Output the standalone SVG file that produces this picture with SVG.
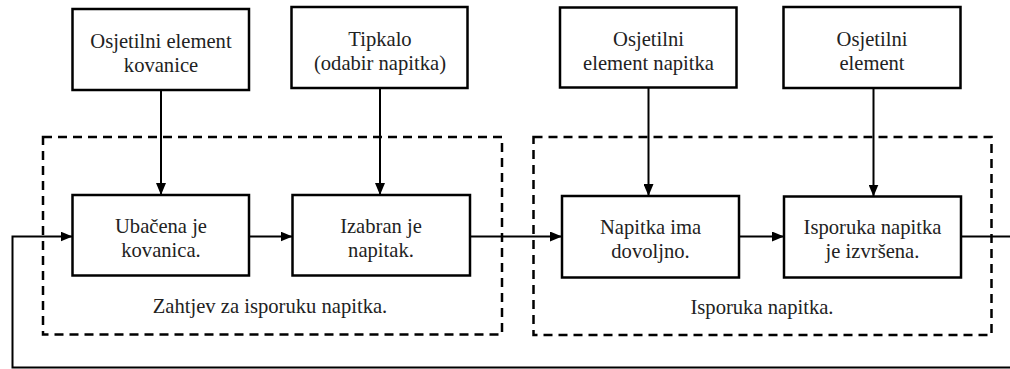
<svg xmlns="http://www.w3.org/2000/svg" width="1010" height="369" viewBox="0 0 1010 369">
<style>
.box{fill:#fff;stroke:#000;stroke-width:2.5}
.grp{fill:none;stroke:#000;stroke-width:2.5;stroke-dasharray:9 6}
.con{fill:none;stroke:#000;stroke-width:2}
text{font-family:'Liberation Serif','Tinos','DejaVu Serif',serif;font-size:20.6px;fill:#222;text-anchor:middle}
</style>
<defs>
<marker id="ah" markerUnits="userSpaceOnUse" markerWidth="12" markerHeight="10" refX="12" refY="5" orient="auto">
<path d="M0,0 L12,5 L0,10 Z" fill="#000"/>
</marker>
</defs>
<rect width="1010" height="369" fill="#fff"/>
<g id="group1"><rect class="grp" x="43" y="137" width="459" height="197.5"/><text x="270" y="313">Zahtjev za isporuku napitka.</text></g>
<g id="group2"><rect class="grp" x="533.5" y="137" width="458" height="198"/><text x="762" y="314">Isporuka napitka.</text></g>
<g id="connectors">
<line class="con" x1="161" y1="90" x2="161" y2="195" marker-end="url(#ah)"/>
<line class="con" x1="380" y1="88" x2="380" y2="195" marker-end="url(#ah)"/>
<line class="con" x1="648.5" y1="88" x2="648.5" y2="196" marker-end="url(#ah)"/>
<line class="con" x1="873.5" y1="88" x2="873.5" y2="196.5" marker-end="url(#ah)"/>
<line class="con" x1="249" y1="236.5" x2="292.5" y2="236.5" marker-end="url(#ah)"/>
<line class="con" x1="470" y1="236.5" x2="562" y2="236.5" marker-end="url(#ah)"/>
<line class="con" x1="739" y1="236.5" x2="784" y2="236.5" marker-end="url(#ah)"/>
<path class="con" d="M961,236.5 H1010"/>
<path class="con" d="M1010,367.5 H12.5 V236.5 H72.5" marker-end="url(#ah)"/>
</g>
<g id="n1"><rect class="box" x="72.5" y="9" width="176.5" height="81"/><text x="161" y="47.5">Osjetilni element</text><text x="161" y="71.5">kovanice</text></g>
<g id="n2"><rect class="box" x="291.5" y="7" width="176" height="81"/><text x="380" y="45.5">Tipkalo</text><text x="380" y="69.5">(odabir napitka)</text></g>
<g id="n3"><rect class="box" x="560" y="7.5" width="176.5" height="80"/><text x="648.5" y="45.5">Osjetilni</text><text x="648.5" y="69.5">element napitka</text></g>
<g id="n4"><rect class="box" x="783.5" y="7" width="177" height="81"/><text x="872" y="45.5">Osjetilni</text><text x="872" y="69.5">element</text></g>
<g id="n5"><rect class="box" x="72.5" y="195" width="176.5" height="80.5"/><text x="161" y="233">Ubačena je</text><text x="161" y="257">kovanica.</text></g>
<g id="n6"><rect class="box" x="292.5" y="195" width="177.5" height="80.5"/><text x="381" y="233">Izabran je</text><text x="381" y="257">napitak.</text></g>
<g id="n7"><rect class="box" x="562" y="196" width="177" height="81.5"/><text x="650.5" y="233.5">Napitka ima</text><text x="650.5" y="257.5">dovoljno.</text></g>
<g id="n8"><rect class="box" x="784" y="196.5" width="177" height="81"/><text x="872.5" y="233.5">Isporuka napitka</text><text x="872.5" y="257.5">je izvršena.</text></g>
</svg>
